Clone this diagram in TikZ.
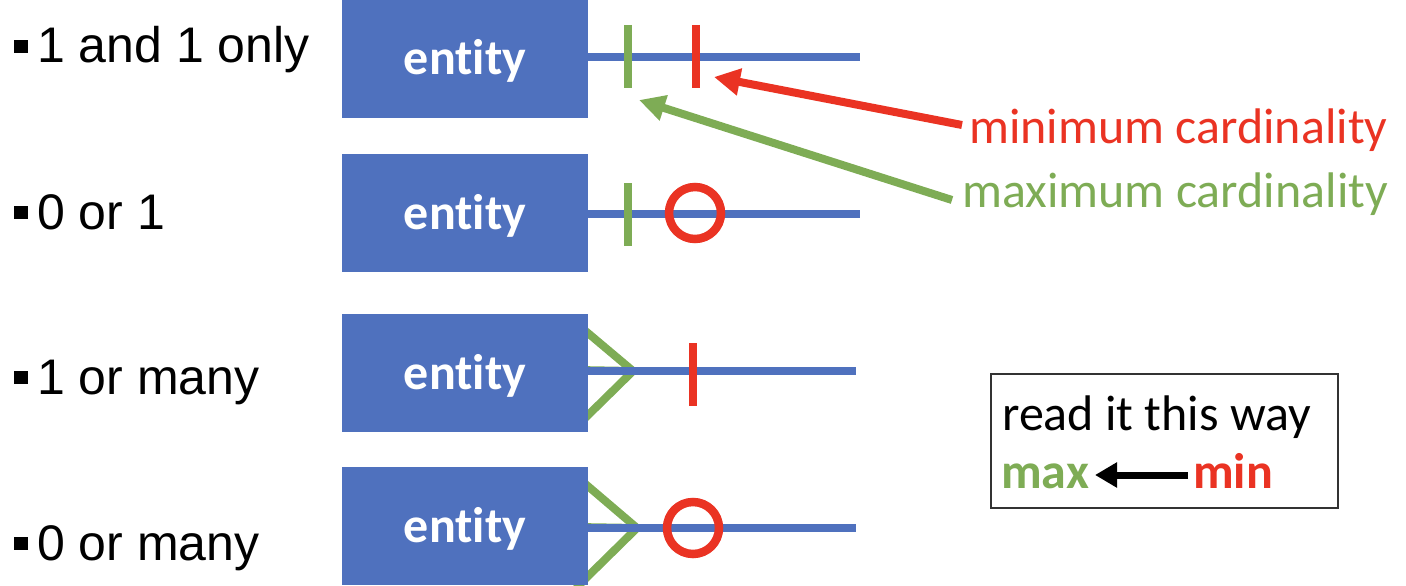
\documentclass[tikz,border=0pt]{standalone}
\usepackage{fontspec}
\setmainfont{Carlito}[Ligatures={NoCommon}]
\newfontfamily\arialf{Liberation Sans}
\usetikzlibrary{arrows.meta}
\definecolor{eblue}{HTML}{4F71BE}
\definecolor{egreen}{HTML}{7EAC55}
\definecolor{ered}{HTML}{EA3323}
\begin{document}
\begin{tikzpicture}[x=1pt,y=-1pt,
  entitybox/.style={rectangle,fill=eblue,minimum width=246pt,minimum height=118pt,inner sep=0pt,
     text=white,font=\fontsize{50}{60}\selectfont\bfseries,text depth=0pt,text height=32pt},
  rowlabel/.style={anchor=base west,inner sep=0pt,font=\arialf\fontsize{50}{60}\selectfont},
  blueline/.style={draw=eblue,line width=7.5pt},
  gtick/.style={draw=egreen,line width=8pt},
  rtick/.style={draw=ered,line width=8pt},
  crow/.style={draw=egreen,line width=8pt},
  zero/.style={circle,draw=ered,line width=8.5pt,minimum size=52pt,inner sep=0pt},
  cardtext/.style={anchor=base west,inner sep=0pt,font=\fontsize{50}{60}\selectfont},
]
\useasboundingbox (0,0) rectangle (1406,586);
\newcommand{\bulletsq}{\raisebox{10pt}{\rule{14pt}{13pt}}\hspace{9pt}}

% row labels
\node[rowlabel] (t1) at (14,63) {\bulletsq 1 and 1 only};
\node[rowlabel] (t2) at (14,229) {\bulletsq 0 or 1};
\node[rowlabel] (t3) at (14,394) {\bulletsq 1 or many};
\node[rowlabel] (t4) at (14,560) {\bulletsq 0 or many};

% crow's feet (under the boxes)
\coordinate (f3) at (633,371);
\coordinate (f4) at (637,528);
\draw[crow] (576,323) -- (f3) -- (576,427);
\draw[crow] (576,370) -- (f3);
\draw[crow] (576,476) -- (f4) -- (576,588);
\draw[crow] (576,527) -- (f4);

% entity boxes
\node[entitybox] (e1) at (465,58.5) {entity};
\node[entitybox] (e2) at (465,213) {entity};
\node[entitybox] (e3) at (465,373) {entity};
\node[entitybox] (e4) at (465,526) {entity};

% relationship lines
\coordinate (l1) at (860,57);
\coordinate (l2) at (860,214);
\coordinate (l3) at (856,371);
\coordinate (l4) at (856,528);
\draw[blueline] (e1.east |- l1) -- (l1);
\draw[blueline] (e2.east |- l2) -- (l2);
\draw[blueline] (e3.east |- l3) -- (l3);
\draw[blueline] (e4.east |- l4) -- (l4);

% ticks
\draw[gtick] (628,25) -- (628,88);
\draw[rtick] (696,25) -- (696,88);
\draw[gtick] (628,183) -- (628,246);
\draw[rtick] (693,343) -- (693,406);

% zero circles
\node[zero] (c2) at (695,213) {};
\node[zero] (c4) at (693,528) {};

% cardinality labels and arrows
\node[cardtext,text=ered] (mincard) at (969,143) {minimum cardinality};
\node[cardtext,text=egreen] (maxcard) at (962,207) {maximum cardinality};
\coordinate (rtail) at (962,125);
\coordinate (rtip) at (714,77);
\coordinate (gtail) at (952,200);
\coordinate (gtip) at (639,100);
\draw[ered,line width=8pt,-{Triangle[length=26pt,width=26pt]}] (rtail) -- (rtip);
\draw[egreen,line width=8pt,-{Triangle[length=26pt,width=25pt]}] (gtail) -- (gtip);

% legend box
\node[draw=black!80,line width=1.5pt,minimum width=347pt,minimum height=134pt,inner sep=0pt] (legend) at (1164.5,441) {};
\node[cardtext] (readit) at (1002,430) {read it this way};
\node[cardtext,font=\fontsize{50}{60}\selectfont\bfseries,text=egreen] (maxw) at (1001,488) {max};
\node[cardtext,font=\fontsize{50}{60}\selectfont\bfseries,text=ered] (minw) at (1193,488) {min};
\draw[black,line width=7pt,-{Triangle[length=22pt,width=24pt]}] (minw.west |- 0,475) ++(-5,0) -- (1095,475);
\end{tikzpicture}
\end{document}
